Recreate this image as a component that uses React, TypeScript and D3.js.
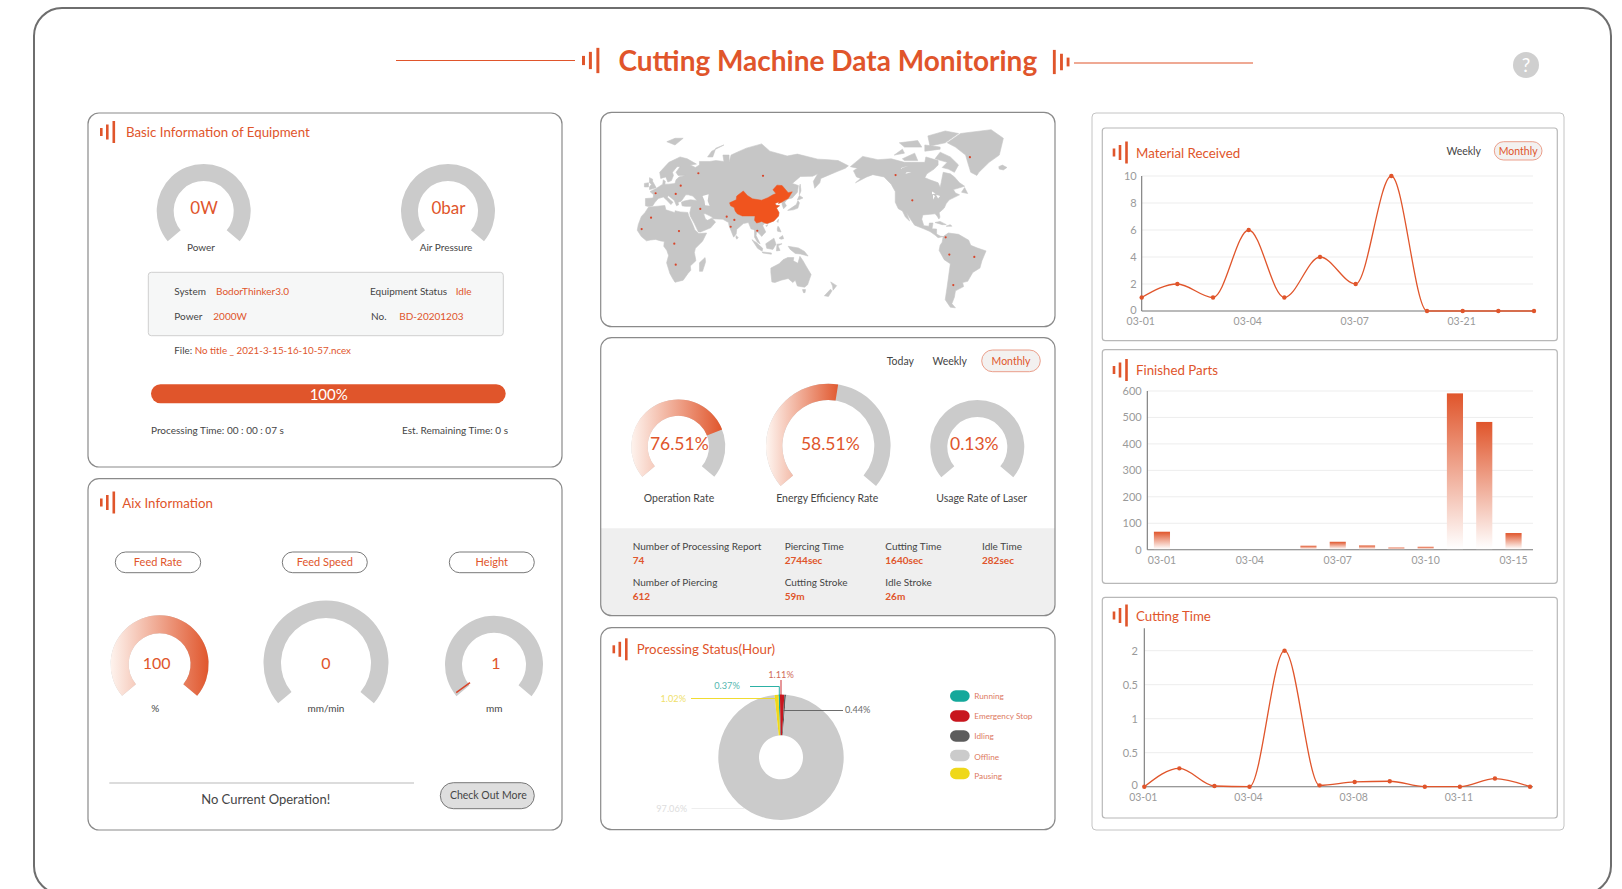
import React from 'react';
import * as d3 from 'd3';

const RED = '#E0552B';
const DARK = '#454545';
const GREY = '#CBCBCB';
const FONT = 'Lato, "Open Sans", sans-serif';

// ---------- data ----------
const materialDates = ['03-01','03-02','03-03','03-04','03-05','03-06','03-07','03-08','03-09','03-21','03-22','03-23'];
const materialValues = [1,2,1,6,1,4,2,10,0,0,0,0];
const materialTicks = [0,2,4,6,8,10];
const materialLabels = ['03-01','03-04','03-07','03-21'];

const partsDates = ['03-01','03-02','03-03','03-04','03-05','03-06','03-07','03-08','03-09','03-10','03-11','03-12','03-15'];
const partsValues = [68,0,0,0,0,15,30,16,8,11,591,483,63];
const partsTicks = [0,100,200,300,400,500,600];
const partsLabels = ['03-01','03-04','03-07','03-10','03-15'];

const cuttingDates = ['03-01','03-02','03-03','03-04','03-05','03-06','03-08','03-09','03-10','03-11','03-12','03-13'];
const cuttingValues = [0,0.27,0.01,0,2,0.02,0.07,0.08,0,0,0.12,0];
const cuttingTicks = [0,0.5,1,1.5,2];
const cuttingTickText = ['0','0.5','1','0.5','2'];
const cuttingLabels = ['03-01','03-04','03-08','03-11'];

const statusNames = ['Running','Emergency Stop','Idling','Offline','Pausing'];
const statusValues = [0.37,1.11,0.44,97.06,1.02];
const statusColors = ['#14A89B','#C8161E','#5C5C5C','#CBCBCB','#EFD81A'];

const rateLabels = ['76.51%','58.51%','0.13%'];
const rateNames = ['Operation Rate','Energy Efficiency Rate','Usage Rate of Laser'];
const rateFill = [76.5,53.5,0];

const statRow1 = [['Number of Processing Report','74'],['Piercing Time','2744sec'],['Cutting Time','1640sec'],['Idle Time','282sec']];
const statRow2 = [['Number of Piercing','612'],['Cutting Stroke','59m'],['Idle Stroke','26m']];

// map: rough coast outlines, [lon, lat]
const africa = [[-6,35.8],[10,37.3],[11,33.5],[20,31],[20,32.7],[25,31.7],[32.5,31.2],[33.5,28],[37,21],[39.5,15],[43.3,11.5],[51,12],[47,4],[40,-3],[39,-7],[40.5,-15],[35,-20],[35.5,-24],[32.7,-27],[28,-33],[20,-34.8],[18,-32],[15,-27],[11.8,-17],[13.7,-10],[12,-5],[9,-1],[9.5,3.8],[6,4.3],[1,5.8],[-4,5.2],[-8,4.4],[-13,8.5],[-17,14.7],[-16,20],[-13,27.5],[-9.5,31]];
const eurasia = [[-9,37],[-9,43],[-1.5,43.5],[-1,46],[-4.5,48.5],[1.5,50.8],[8,54],[8.5,57],[10.5,56],[10,54],[14,54],[20,54.5],[21,57],[24,59],[30,60],[23,60],[21,62],[25,65.5],[22,65.5],[17.5,62],[18.5,60],[16.5,56.5],[13,55.5],[11,59],[6,58],[5,62],[14,68],[25,71],[32,70],[41,67],[35,66.5],[40,65],[44,66.5],[44,68.5],[54,68.5],[60,69],[68,68.5],[67,72],[73,72],[73,68],[75,72],[81,73.5],[90,75.5],[105,77.5],[113,74],[130,71.5],[140,72.5],[160,69.8],[170,69.5],[180,69],[190,66],[187,64.5],[179,62.5],[170,60],[163,58],[162,55],[157,51],[155.7,56],[160,61],[155,59.5],[143,59.3],[135,54.5],[141,53],[140,48],[135,43.5],[130,42.5],[127.5,39.5],[129.3,37],[126.5,34.5],[125,38],[125,40],[121.5,39],[122,40.5],[118,39],[119,37.5],[122.5,37],[119.5,35],[122,31],[121.5,28],[117,23.5],[110.5,21],[108,21.5],[106,19],[109,13],[105,8.7],[103,11],[100,13.5],[99.5,9.5],[103.5,1.5],[101,3],[98,8],[98,15],[94.5,16],[92,22],[87,21],[80.5,15.5],[80,11],[77.5,8],[73,19],[72.5,22],[67,25],[57,25.5],[56.5,27],[50,30],[48,30],[50,25],[52,24],[56,26],[59.8,22.5],[55,17],[45,13],[43,13],[39,21],[35,28],[34.5,31],[36,36.5],[30,36.5],[27,37],[26.3,40],[29,41],[35,42],[41.5,41.5],[37.5,45],[33,46],[30.5,46],[28,43],[26,40.8],[23,40],[23.5,37.8],[21.5,37],[19.3,41.5],[13.5,45.5],[12.5,44],[18,40],[16,38],[11,42.5],[8.5,44.3],[3.5,43],[0,39.5],[-2,36.8],[-6,36.3]];
const northAmerica = [[192,65.5],[204,71.3],[219,69.5],[232,70],[245,68],[252,68],[265,68],[266,71],[278,69],[278,66.5],[274,64],[267,61],[265,58.5],[270,57],[278,55],[280,51.5],[281,55],[283,62],[290,61],[294,59],[299,55],[304,52.5],[293,50],[295,47.5],[299,46],[294,44],[289,42],[286,39],[284,35],[279,31],[279.8,27],[278.8,25.2],[277,28],[275,30],[270,29.5],[263,29],[262,25],[264,19],[269,18.5],[269.5,21.5],[273,21.5],[272,16],[276.5,15.8],[276.5,11],[280,9],[283,8.5],[278,7.5],[275,10],[270,13.5],[264,16],[255,19.5],[251,25],[247,31],[250,23.5],[246,27],[243,32.5],[239,34.5],[236,40],[236,48.5],[232,54],[225,59],[214,60.5],[208,59],[197,55],[202,58],[198,59],[195,63],[199,64.5]];
const southAmerica = [[283,8.5],[288,12],[298,10.7],[308,5],[310,0],[316,-2.5],[325,-5.5],[321,-15],[319,-22],[312,-26],[307,-34],[302,-35],[303,-38.5],[295,-42],[294,-47],[291.5,-52],[295,-55],[290,-54.5],[285,-49],[287,-38],[290,-18],[284,-14],[279,-5],[280,0],[282,3]];
const australia = [[114,-22],[114,-26],[115,-34.5],[118,-35],[124,-33],[131,-31.5],[135.5,-35],[138,-33],[140,-38],[147,-39],[150,-37],[153.5,-28],[149,-21],[145.5,-15],[142.5,-10.8],[140.5,-17.5],[136,-15],[136.5,-12],[130.5,-12],[126,-14],[122,-18]];
const greenland = [[287,78],[300,82],[330,83.5],[342,80],[338,72],[328,68],[318,62],[316,60],[310,62],[307,68],[305,72],[295,76]];
const islands = [
  [[-5,50],[1.5,51.3],[0,53.5],[-2,56],[-2,57.5],[-5,58.5],[-5,55],[-3,54],[-5,52]],
  [[-10,52],[-6,52],[-6,55],[-10,54.5]],
  [[337.5,65.5],[341,66.4],[345.5,65],[342,63.5],[338,64]],
  [[12,78.5],[20,80],[28,80],[20,77]],
  [[52,71],[56,74],[68,77],[60,75.5],[57,71]],
  [[130.5,33],[136,33.5],[140.5,35],[142,39.5],[140.5,41.3],[139,38],[135,35.7]],
  [[140,42],[142,45.5],[145.5,43.5],[142,42.2]],
  [[142,46],[143.5,49],[142.8,54],[142,52]],
  [[120,23],[121.5,25],[121,22]],
  [[109,19],[111,20],[110,18.2]],
  [[80,9.5],[82,7.5],[80.5,6],[79.7,8]],
  [[95.5,5.5],[100,2.5],[106,-3],[105.5,-5.8],[101,-3]],
  [[105.5,-6.5],[114.5,-7.5],[114.5,-8.7],[106,-7.5]],
  [[109,1.5],[117,7],[119,1],[116,-4],[110,-3]],
  [[119.5,-5.5],[120,1],[125,1.5],[121,-0.5],[123,-5]],
  [[120.3,16],[121,18.5],[122.2,17],[124,13],[120.5,13.8]],
  [[122,7],[125.5,9.5],[126.5,6.5],[124,6]],
  [[131,-1],[141,-2.6],[147,-6],[150.5,-10.5],[143,-8.5],[138,-8],[133,-4]],
  [[145,-41],[148,-41],[147.5,-43.5],[146,-43.5]],
  [[172.7,-34.5],[178.5,-37.7],[175,-41.5],[174.5,-38]],
  [[172.5,-40.7],[174,-42],[170.5,-46.5],[166.5,-46]],
  [[49.5,-12],[50,-16],[47,-25],[44,-25],[44,-17]],
  [[280,73.5],[290,71],[298,66.5],[294,62],[288,64],[282,65],[287,68],[275,70]],
  [[243,70],[255,73],[258,69],[245,69]],
  [[235,72],[243,75],[245,73]],
  [[265,74],[280,75],[280,76],[265,77]],
  [[270,76.5],[285,78],[298,82],[285,83],[268,81]],
  [[245,76],[262,76],[258,79],[240,78]],
  [[301,48],[304,51.5],[307,47]],
  [[275,22],[280,23],[286,20],[282,20]],
  [[286,18.5],[290,20],[291.5,18.5]],
];
const lakes = [
  [[47,45],[53,46.5],[52,41],[54,37],[49.5,37.5],[49,41]],
  [[272,48.5],[275.5,47],[272,46.5]],
  [[273,46],[275,45],[273,42]],
  [[276,46],[280,45],[278,43]],
  [[249,66],[243,65],[240,64]],
  [[252,62],[246,61],[247,62]],
];
const china = [[73.5,39.5],[80,42],[80.5,45],[87,49],[91,45.5],[96,42.8],[105,41.7],[111,43.7],[116,46],[119,47],[116,49.8],[120,53.3],[125,53],[131,47.7],[135,48.3],[131,43],[128,41.8],[124.5,40],[121.5,39],[122,40.5],[118,39],[119,37.5],[122.5,37],[119.5,35],[122,31],[121.5,28],[117,23.5],[110.5,21],[108,21.5],[105,23],[102,22],[100,21.5],[98,24],[98.5,28],[92,28],[86,28],[81,30],[79,32.5],[78,35.5],[74.5,37]];
const mapDots = [[42.9,61.4],[25.6,52.9],[1,47.2],[20.7,46.7],[44.8,34.3],[-3.5,26.5],[-12.7,15.8],[23.9,13.9],[19.3,1.6],[20.7,-18.8],[70.7,27.4],[78.2,24.4],[74.6,18],[100.7,14.2],[106.3,59.7],[236.3,60.2],[252.7,41.6],[309.2,70.9],[285.4,7.8],[289,-9.1],[313.5,-11.4],[292.9,-37.2]];

// ---------- helpers ----------
const rad = (d: number) => (d * Math.PI) / 180;
const T = ({ x, y, size = 11, fill = DARK, anchor = 'start', weight = 400, children }: any) => (
  <text x={x} y={y} fontSize={size} fill={fill} textAnchor={anchor} fontWeight={weight} fontFamily={FONT}>{children}</text>
);
const Card = ({ x, y, x2, y2, r = 11, stroke = '#8a8a8a', sw = 1.2, fill = 'none' }: any) => (
  <rect x={x} y={y} width={x2 - x} height={y2 - y} rx={r} fill={fill} stroke={stroke} strokeWidth={sw} />
);
const Icon = ({ x, y, k = 1, flip = false }: any) => {
  const bars = [[0, 8], [6, 15], [12.5, 22]];
  return (
    <g transform={`translate(${x},${y}) scale(${flip ? -k : k},${k})`}>
      {bars.map(([dx, h], i) => (
        <rect key={i} x={flip ? dx - 15 : dx} y={-h / 2} width={2.6} height={h} fill={RED} />
      ))}
    </g>
  );
};
const Title = ({ x, y, ix, children }: any) => (
  <g>
    <Icon x={ix} y={y - 5} />
    <T x={x} y={y} size={13.3} fill={RED}>{children}</T>
  </g>
);
const Gauge = ({ cx, cy, ro, ri, pct = 0, gid }: any) => {
  const a0 = rad(-130), a1 = rad(130);
  const arc = d3.arc();
  const track = arc({ innerRadius: ri, outerRadius: ro, startAngle: a0, endAngle: a1 } as any) as string;
  const end = a0 + ((a1 - a0) * pct) / 100;
  const fill = pct > 0 ? (arc({ innerRadius: ri, outerRadius: ro, startAngle: a0, endAngle: end } as any) as string) : null;
  return (
    <g transform={`translate(${cx},${cy})`}>
      <path d={track} fill={GREY} />
      {fill && <path d={fill} fill={`url(#${gid})`} />}
    </g>
  );
};
const Grad = ({ id, x1, x2 }: any) => (
  <linearGradient id={id} gradientUnits="userSpaceOnUse" x1={x1} x2={x2} y1={0} y2={0}>
    <stop offset="0" stopColor="#FEF5F0" />
    <stop offset="1" stopColor={RED} />
  </linearGradient>
);
const Pill = ({ x, y, w, h, text, stroke = '#6a6a6a', fill = 'white', color = RED, size = 11 }: any) => (
  <g>
    <rect x={x} y={y} width={w} height={h} rx={h / 2} fill={fill} stroke={stroke} strokeWidth={0.9} />
    <T x={x + w / 2} y={y + h / 2 + size * 0.36} size={size} fill={color} anchor="middle">{text}</T>
  </g>
);

const LineChart = ({ dates, values, ticks, tickText, labels, x0, x1, yZero, yMax, maxV, gridEnd, labelY, tickX, axisTop }: any) => {
  const x = d3.scalePoint<string>().domain(dates).range([x0, x1]);
  const y = d3.scaleLinear().domain([0, maxV]).range([yZero, yMax]);
  const line = d3.line<number>().x((_, i) => x(dates[i]) as number).y(d => y(d)).curve(d3.curveMonotoneX);
  return (
    <g>
      {ticks.map((t: number, i: number) => (
        <g key={i}>
          {t !== 0 && <line x1={x0} x2={gridEnd} y1={y(t)} y2={y(t)} stroke="#EDEDED" strokeWidth={1} />}
          <T x={tickX} y={y(t) + (t === 0 ? 2.5 : 4)} size={11} fill="#9a9a9a" anchor="end">{tickText ? tickText[i] : t}</T>
        </g>
      ))}
      <line x1={x0} x2={x0} y1={axisTop ?? yMax} y2={yZero} stroke="#777" strokeWidth={1.1} />
      <line x1={x0} x2={gridEnd} y1={yZero} y2={yZero} stroke="#777" strokeWidth={1.1} />
      {labels.map((l: string) => (
        <T key={l} x={(x(l) as number) - 1} y={labelY} size={10.5} fill="#9a9a9a" anchor="middle">{l}</T>
      ))}
      <path d={line(values) as string} fill="none" stroke={RED} strokeWidth={1.3} />
      {values.map((v: number, i: number) => (
        <circle key={i} cx={x(dates[i])} cy={y(v)} r={2.2} fill={RED} />
      ))}
    </g>
  );
};

const BarChart = () => {
  const x0 = 1147.3, yZero = 549.7;
  const x = d3.scaleBand<string>().domain(partsDates).range([x0, x0 + 13 * 29.3]).paddingInner(0.45).paddingOuter(0.225);
  const y = d3.scaleLinear().domain([0, 600]).range([yZero, 391]);
  return (
    <g>
      {partsTicks.map(t => (
        <g key={t}>
          {t !== 0 && <line x1={x0} x2={1533} y1={y(t)} y2={y(t)} stroke="#EDEDED" />}
          <T x={1141.7} y={y(t) + 4} size={11} fill="#9a9a9a" anchor="end">{t}</T>
        </g>
      ))}
      <line x1={x0} x2={x0} y1={391} y2={yZero} stroke="#777" strokeWidth={1.1} />
      <line x1={x0} x2={1533} y1={yZero} y2={yZero} stroke="#777" strokeWidth={1.1} />
      {partsLabels.map(l => (
        <T key={l} x={(x(l) as number) + x.bandwidth() / 2} y={563.5} size={10.5} fill="#9a9a9a" anchor="middle">{l}</T>
      ))}
      {partsValues.map((v, i) => v > 0 && (
        <rect key={i} x={x(partsDates[i])} y={y(v)} width={x.bandwidth()} height={yZero - y(v) - 0.6} fill="url(#barGrad)" />
      ))}
    </g>
  );
};

const WorldMap = () => {
  const miller = (lat: number) => 1.25 * Math.log(Math.tan(Math.PI / 4 + 0.4 * rad(lat)));
  const x = d3.scaleLinear().domain([20, 106]).range([675, 762.7]);
  const y = d3.scaleLinear().domain([0, 1]).range([245.3, 245.3 - 58.4]);
  const line = d3.line<number[]>().x(p => x(p[0])).y(p => y(miller(p[1]))).curve(d3.curveLinearClosed);
  const land = [africa, eurasia, northAmerica, southAmerica, australia, greenland, ...islands];
  return (
    <g>
      {land.map((s, i) => <path key={i} d={line(s as any) as string} fill="#C6C6C6" stroke="#C6C6C6" strokeWidth={0.6} />)}
      {lakes.map((s, i) => <path key={i} d={line(s as any) as string} fill="#FFFFFF" />)}
      <path d={line(china as any) as string} fill="#F0541E" stroke="#F0541E" strokeWidth={0.5} />
      {mapDots.map((p, i) => <circle key={i} cx={x(p[0])} cy={y(miller(p[1]))} r={1.1} fill="#D8452A" />)}
    </g>
  );
};

const Donut = () => {
  const cx = 781, cy = 757.3;
  const pie = d3.pie<number>().sort(null).startAngle(rad(-2.3)).endAngle(rad(-2.3) + Math.PI * 2);
  const arcs = pie(statusValues);
  const arc = d3.arc<any>().innerRadius(22).outerRadius(62.7);
  return (
    <g>
      <g transform={`translate(${cx},${cy})`}>
        {arcs.map((a, i) => <path key={i} d={arc(a) as string} fill={statusColors[i]} />)}
      </g>
      <path d="M781,680 V697" stroke={statusColors[1]} fill="none" strokeWidth={0.9} />
      <path d="M750,686.5 H779.3 V696" stroke={statusColors[0]} fill="none" strokeWidth={0.9} />
      <path d="M691,698.5 H775" stroke={statusColors[4]} fill="none" strokeWidth={0.9} />
      <path d="M783.5,710.5 H843" stroke={statusColors[2]} fill="none" strokeWidth={0.9} />
      <path d="M691.5,808.5 H745" stroke="#ECECEC" fill="none" strokeWidth={0.9} />
      <T x={781} y={678} size={9.2} fill="#D06A58" anchor="middle">{statusValues[1].toFixed(2)}%</T>
      <T x={727} y={689} size={9.2} fill="#55B7B0" anchor="middle">{statusValues[0].toFixed(2)}%</T>
      <T x={673.3} y={702} size={9.2} fill="#EFDF6A" anchor="middle">{statusValues[4].toFixed(2)}%</T>
      <T x={857.7} y={712.5} size={9.2} fill="#6a6a6a" anchor="middle">{statusValues[2].toFixed(2)}%</T>
      <T x={671.7} y={811.5} size={9.2} fill="#DDDDDD" anchor="middle">{statusValues[3].toFixed(2)}%</T>
      {statusNames.map((n, i) => {
        const ly = [696, 716, 736, 755.5, 773.5][i];
        return (
          <g key={n}>
            <rect x={950} y={ly - 5.8} width={19.7} height={11.6} rx={5.8} fill={statusColors[i]} />
            <T x={974.3} y={ly + 3 + (i === 4 ? 2 : i === 3 ? 1 : 0)} size={8.2} fill="#DD7A62">{n}</T>
          </g>
        );
      })}
    </g>
  );
};

export default function App() {
  const statX = [632.7, 784.7, 885.3, 982];
  return (
    <svg width={1622} height={889} viewBox="0 0 1622 889" style={{ position: 'absolute', left: 0, top: 0, background: '#fff' }}>
      <defs>
        <Grad id="gFeed" x1={-50} x2={50} />
        <Grad id="gOp" x1={-48} x2={44} />
        <Grad id="gEn" x1={-62} x2={12} />
        <linearGradient id="barGrad" x1="0" x2="0" y1="0" y2="1">
          <stop offset="0" stopColor={RED} />
          <stop offset="1" stopColor="#FFFFFF" />
        </linearGradient>
      </defs>

      <rect x={34} y={8} width={1577} height={886} rx={28} fill="#fff" stroke="#6e6e6e" strokeWidth={2} />

      {/* header */}
      <line x1={396} x2={575} y1={60.5} y2={60.5} stroke={RED} strokeWidth={1.2} />
      <line x1={1074} x2={1253} y1={63} y2={63} stroke={RED} strokeWidth={1.2} />
      <Icon x={582} y={60.5} k={1.15} />
      <Icon x={1053} y={62} k={1.1} flip />
      <text x={618.5} y={70.5} fontSize={28} fontWeight={700} fill={RED} fontFamily={FONT}>Cutting Machine Data Monitoring</text>
      <circle cx={1526} cy={65} r={13} fill="#CFCFCF" />
      <T x={1526} y={72} size={19} fill="#fff" anchor="middle">?</T>

      {/* Basic information */}
      <Card x={88} y={113} x2={562} y2={467} />
      <Title x={126} y={137} ix={100}>Basic Information of Equipment</Title>
      <Gauge cx={203.7} cy={211} ro={47} ri={30} />
      <Gauge cx={448} cy={211} ro={47} ri={30} />
      <T x={204} y={213.5} size={17} fill={RED} anchor="middle">0W</T>
      <T x={448.5} y={213.5} size={17} fill={RED} anchor="middle">0bar</T>
      <T x={201} y={250.5} size={10} anchor="middle">Power</T>
      <T x={446} y={250.5} size={10} anchor="middle">Air Pressure</T>
      <rect x={148.3} y={272.3} width={355} height={63.4} rx={3} fill="#F6F7F7" stroke="#CFCFCF" strokeWidth={1} />
      <T x={174.3} y={294.7} size={10}>System</T>
      <T x={216} y={294.7} size={10} fill={RED}>BodorThinker3.0</T>
      <T x={370} y={294.7} size={10}>Equipment Status</T>
      <T x={455.7} y={294.7} size={10} fill={RED}>Idle</T>
      <T x={174.3} y={319.5} size={10}>Power</T>
      <T x={213.3} y={319.5} size={10} fill={RED}>2000W</T>
      <T x={371} y={319.5} size={10}>No.</T>
      <T x={399.3} y={319.5} size={10} fill={RED}>BD-20201203</T>
      <text x={174.3} y={354.3} fontSize={9.8} fontFamily={FONT} fill={DARK}>File: <tspan fill={RED}>No title _ 2021-3-15-16-10-57.ncex</tspan></text>
      <rect x={151} y={384.3} width={354.7} height={19} rx={9.5} fill={RED} />
      <T x={328.7} y={399.5} size={15} fill="#fff" anchor="middle">100%</T>
      <T x={151} y={434} size={10}>Processing Time: 00 : 00 : 07 s</T>
      <T x={508} y={434} size={10} anchor="end">Est. Remaining Time: 0 s</T>

      {/* Aix information */}
      <Card x={88} y={478.7} x2={562} y2={830} />
      <Title x={122.3} y={507.5} ix={100}>Aix Information</Title>
      <Pill x={115.3} y={552} w={85.4} h={20.7} text="Feed Rate" />
      <Pill x={282.3} y={552} w={85} h={20.7} text="Feed Speed" />
      <Pill x={449.3} y={552} w={85} h={20.7} text="Height" />
      <Gauge cx={159.6} cy={664.3} ro={49} ri={31} pct={100} gid="gFeed" />
      <Gauge cx={326} cy={663} ro={62.5} ri={45} />
      <Gauge cx={494} cy={664.7} ro={49} ri={32} />
      <line x1={456.2} y1={692.7} x2={470} y2={682.7} stroke="#D8452A" strokeWidth={1.6} />
      <T x={156.7} y={668.7} size={16} fill={RED} anchor="middle">100</T>
      <T x={326} y={668.7} size={16} fill={RED} anchor="middle">0</T>
      <T x={496} y={668.7} size={16} fill={RED} anchor="middle">1</T>
      <T x={155.3} y={711.7} size={10} anchor="middle">%</T>
      <T x={326} y={711.7} size={10} anchor="middle">mm/min</T>
      <T x={494.3} y={711.7} size={10} anchor="middle">mm</T>
      <line x1={109.3} x2={414} y1={783} y2={783} stroke="#B9B9B9" strokeWidth={1} />
      <T x={265.7} y={803.5} size={13} anchor="middle">No Current Operation!</T>
      <rect x={440.3} y={782.7} width={94} height={26} rx={13} fill="#DEDEDE" stroke="#6a6a6a" strokeWidth={0.9} />
      <T x={488.3} y={799.3} size={10.5} anchor="middle">Check Out More</T>

      {/* map */}
      <Card x={600.7} y={112.3} x2={1055} y2={326.7} />
      <WorldMap />

      {/* rates */}
      <path d="M600.7,528.3 H1055 V604.7 a11,11 0 0 1 -11,11 H611.7 a11,11 0 0 1 -11,-11 Z" fill="#EFEFEF" />
      <Card x={600.7} y={337.7} x2={1055} y2={615.7} />
      <T x={900.3} y={365} size={10.5} anchor="middle">Today</T>
      <T x={949.7} y={365} size={10.5} anchor="middle">Weekly</T>
      <Pill x={981.7} y={350} w={58.6} h={21.7} text="Monthly" stroke="#E9957F" fill="#F3F1F0" size={10.5} />
      <Gauge cx={678.3} cy={446.5} ro={47} ri={30.7} pct={rateFill[0]} gid="gOp" />
      <Gauge cx={828.3} cy={446} ro={62.3} ri={46} pct={rateFill[1]} gid="gEn" />
      <Gauge cx={977.3} cy={447} ro={47} ri={30} pct={rateFill[2]} />
      <T x={679.3} y={449.5} size={17.5} fill={RED} anchor="middle">{rateLabels[0]}</T>
      <T x={830.3} y={449.5} size={17.5} fill={RED} anchor="middle">{rateLabels[1]}</T>
      <T x={974.3} y={449.5} size={17.5} fill={RED} anchor="middle">{rateLabels[2]}</T>
      <T x={679} y={502} size={10.5} anchor="middle">{rateNames[0]}</T>
      <T x={827.3} y={502} size={10.5} anchor="middle">{rateNames[1]}</T>
      <T x={981.7} y={502} size={10.5} anchor="middle">{rateNames[2]}</T>
      {statRow1.map(([n, v], i) => (
        <g key={n}>
          <T x={statX[i]} y={549.7} size={10}>{n}</T>
          <T x={statX[i]} y={563.7} size={10} fill={RED} weight={700}>{v}</T>
        </g>
      ))}
      {statRow2.map(([n, v], i) => (
        <g key={n}>
          <T x={statX[i]} y={586} size={10}>{n}</T>
          <T x={statX[i]} y={600} size={10} fill={RED} weight={700}>{v}</T>
        </g>
      ))}

      {/* status */}
      <Card x={600.7} y={627.7} x2={1055} y2={829.7} />
      <Title x={636.7} y={654.3} ix={612.5}>Processing Status(Hour)</Title>
      <Donut />

      {/* right column */}
      <Card x={1092} y={113} x2={1564} y2={830} r={4} stroke="#C4C4C4" sw={1} />
      <Card x={1102.3} y={128} x2={1557.3} y2={340.7} r={3} stroke="#B8B8B8" sw={1.2} />
      <Title x={1136} y={157.5} ix={1112.7}>Material Received</Title>
      <T x={1463.7} y={154.5} size={10.5} anchor="middle">Weekly</T>
      <Pill x={1494.3} y={141.7} w={47.7} h={18.3} text="Monthly" stroke="#E9957F" fill="#F3F1F0" size={10.5} />
      <LineChart dates={materialDates} values={materialValues} ticks={materialTicks} labels={materialLabels}
        x0={1141.7} x1={1534} yZero={311} yMax={176} maxV={10} gridEnd={1533} labelY={325} tickX={1136.7} />

      <Card x={1102.3} y={349.7} x2={1557.3} y2={583.3} r={3} stroke="#B8B8B8" sw={1.2} />
      <Title x={1136} y={375} ix={1112.7}>Finished Parts</Title>
      <BarChart />

      <Card x={1102.3} y={597.3} x2={1557.3} y2={818} r={3} stroke="#B8B8B8" sw={1.2} />
      <Title x={1136} y={620.5} ix={1112.7}>Cutting Time</Title>
      <LineChart dates={cuttingDates} values={cuttingValues} ticks={cuttingTicks} tickText={cuttingTickText} labels={cuttingLabels}
        x0={1144.3} x1={1530} yZero={786.7} yMax={650.7} maxV={2} gridEnd={1533} labelY={801} tickX={1138} axisTop={628.3} />
    </svg>
  );
}
